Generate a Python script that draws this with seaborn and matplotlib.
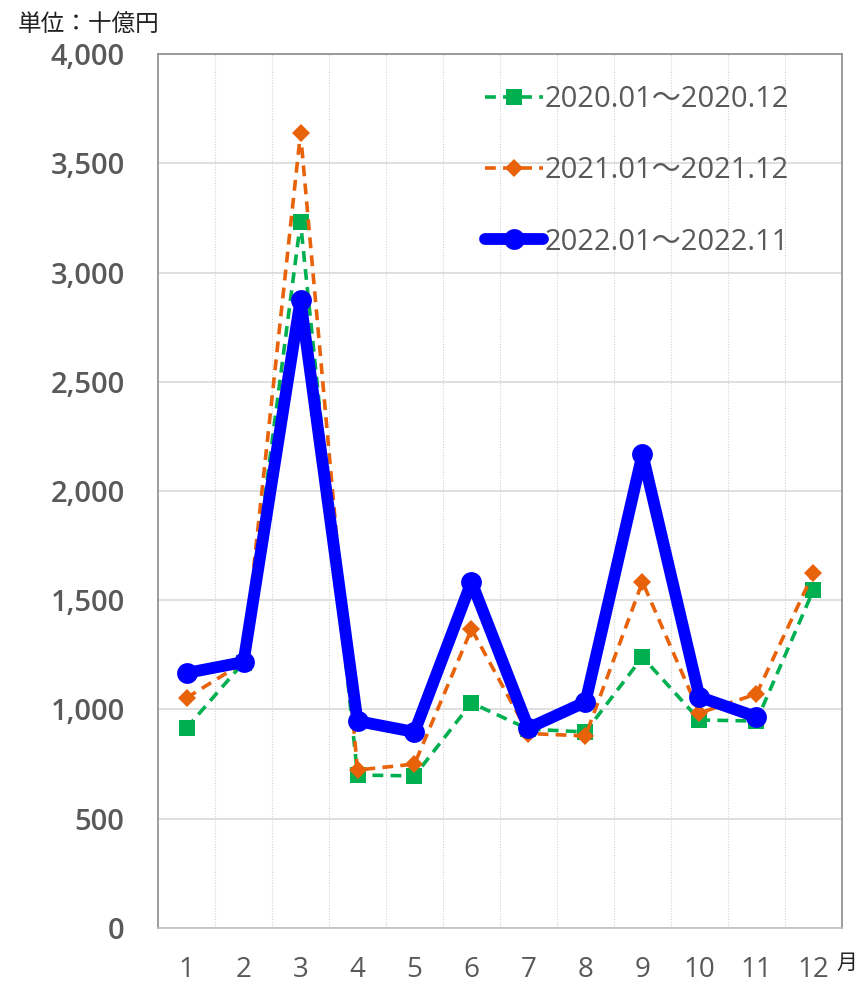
import numpy as np
import pandas as pd
import matplotlib.pyplot as plt
import seaborn as sns

# ------------------------------
# DATA (billion yen, by month)
# ------------------------------
months = list(range(1, 13))
y2020 = [915, 1215, 3230, 700, 696, 1030, 910, 897, 1240, 952, 947, 1547]
y2021 = [1053, 1215, 3638, 723, 750, 1368, 890, 879, 1584, 984, 1071, 1625]
y2022 = [1167, 1217, 2874, 947, 897, 1584, 915, 1034, 2169, 1057, 966]

labels = ["2020.01～2020.12", "2021.01～2021.12", "2022.01～2022.11"]

sns.set_style("white")
plt.rcParams["font.family"] = ["Open Sans", "Noto Sans CJK JP", "DejaVu Sans"]

fig = plt.figure(figsize=(8.56, 9.83), dpi=100)
ax = fig.add_axes([0.1846, 0.056, 0.799, 0.889])

grey = "#595959"

sns.lineplot(x=months, y=y2020, ax=ax, color="#00B050", lw=2.6,
             linestyle=(0, (3, 2)), marker="s", markersize=11,
             markeredgewidth=0, label=labels[0], zorder=3)
sns.lineplot(x=months, y=y2021, ax=ax, color="#E8620A", lw=2.6,
             linestyle=(0, (3, 2)), marker="D", markersize=9,
             markeredgewidth=0, label=labels[1], zorder=4)
sns.lineplot(x=months[:len(y2022)], y=y2022, ax=ax, color="#0000FF", lw=8.5,
             marker="o", markersize=15, markeredgewidth=0,
             label=labels[2], zorder=5, solid_capstyle="round")

ax.set_xlim(0.5, 12.5)
ax.set_ylim(0, 4000)
ax.set_yticks(np.arange(0, 4001, 500))
ax.set_yticklabels([f"{v:,}" for v in range(0, 4001, 500)],
                   fontsize=21, fontweight="semibold", color=grey)
ax.set_xticks(months)
ax.set_xticklabels([str(m) for m in months], fontsize=20, color=grey)
ax.set_xticks(np.arange(1.5, 12, 1), minor=True)
ax.tick_params(axis="both", which="both", length=0)
ax.tick_params(axis="y", pad=24)
ax.tick_params(axis="x", pad=20)

ax.grid(axis="y", which="major", color="#d9d9d9", lw=1.2)
ax.grid(axis="x", which="minor", color="#d0d0d0", lw=0.8, linestyle=(0, (1, 1.5)))
ax.grid(axis="x", which="major", visible=False)
ax.set_axisbelow(True)

for side in ["left", "right", "top"]:
    ax.spines[side].set_color("#8c8c8c")
    ax.spines[side].set_linewidth(1.2)
ax.spines["bottom"].set_color("#bfbfbf")
ax.spines["bottom"].set_linewidth(1.2)

leg = ax.legend(loc="upper right", frameon=False, fontsize=21,
                labelspacing=1.45, handlelength=2.0, handletextpad=0.05,
                borderaxespad=0.0, bbox_to_anchor=(0.94, 0.978))
for t in leg.get_texts():
    t.set_color(grey)

fig.text(0.021, 0.968, "単位：十億円", fontsize=17, color="#222222",
         family=["Noto Sans CJK JP", "DejaVu Sans"])
fig.text(0.977, 0.014, "月", fontsize=15, color="#222222",
         family=["Noto Sans CJK JP", "DejaVu Sans"])

fig.savefig("out.png", dpi=100)
